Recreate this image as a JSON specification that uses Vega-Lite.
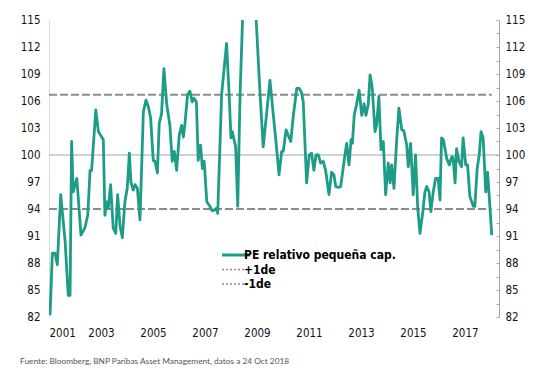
{
  "$schema": "https://vega.github.io/schema/vega-lite/v6.json",
  "width": 450,
  "height": 297,
  "autosize": {"type": "none"},
  "padding": {"left": 49, "top": 20, "right": 59, "bottom": 65},
  "background": "white",
  "config": {"view": {"stroke": null}, "font": "DejaVu Sans Condensed, Roboto, sans-serif"},
  "title": {
    "text": "Fuente: Bloomberg, BNP Paribas Asset Management, datos a 24 Oct 2018",
    "orient": "bottom",
    "anchor": "start",
    "frame": "group",
    "dx": -29,
    "offset": 18,
    "font": "Lato",
    "fontSize": 8.3,
    "fontWeight": "normal",
    "color": "#555555"
  },
  "datasets": {
    "pe": [
      {"t": 2001.04, "v": 82.2}, {"t": 2001.13, "v": 89.1}, {"t": 2001.23, "v": 89.1}, {"t": 2001.32, "v": 87.8},
      {"t": 2001.45, "v": 95.6}, {"t": 2001.62, "v": 90.4}, {"t": 2001.74, "v": 84.4}, {"t": 2001.81, "v": 84.4},
      {"t": 2001.87, "v": 101.5}, {"t": 2001.93, "v": 95.9}, {"t": 2002.07, "v": 97.4}, {"t": 2002.23, "v": 91.1},
      {"t": 2002.38, "v": 91.9}, {"t": 2002.49, "v": 93.3}, {"t": 2002.58, "v": 98.3}, {"t": 2002.64, "v": 98.3},
      {"t": 2002.8, "v": 105.0}, {"t": 2002.9, "v": 102.6}, {"t": 2003.09, "v": 101.7}, {"t": 2003.15, "v": 93.3},
      {"t": 2003.22, "v": 94.8}, {"t": 2003.28, "v": 94.1}, {"t": 2003.37, "v": 96.7}, {"t": 2003.47, "v": 91.9},
      {"t": 2003.57, "v": 91.3}, {"t": 2003.64, "v": 95.6}, {"t": 2003.73, "v": 92.2}, {"t": 2003.82, "v": 90.8},
      {"t": 2003.92, "v": 94.8}, {"t": 2004.01, "v": 96.3}, {"t": 2004.09, "v": 100.2}, {"t": 2004.15, "v": 97.0},
      {"t": 2004.24, "v": 96.1}, {"t": 2004.31, "v": 96.7}, {"t": 2004.4, "v": 96.3}, {"t": 2004.5, "v": 92.8},
      {"t": 2004.63, "v": 104.8}, {"t": 2004.73, "v": 106.1}, {"t": 2004.82, "v": 105.4}, {"t": 2004.91, "v": 104.1},
      {"t": 2005.01, "v": 99.4}, {"t": 2005.08, "v": 99.3}, {"t": 2005.17, "v": 98.0}, {"t": 2005.24, "v": 103.5},
      {"t": 2005.33, "v": 104.6}, {"t": 2005.42, "v": 109.6}, {"t": 2005.53, "v": 105.6}, {"t": 2005.65, "v": 103.3},
      {"t": 2005.74, "v": 99.3}, {"t": 2005.82, "v": 100.4}, {"t": 2005.91, "v": 98.3}, {"t": 2006.01, "v": 102.2},
      {"t": 2006.1, "v": 103.3}, {"t": 2006.17, "v": 102.0}, {"t": 2006.23, "v": 103.5}, {"t": 2006.33, "v": 106.7},
      {"t": 2006.42, "v": 107.1}, {"t": 2006.51, "v": 105.9}, {"t": 2006.58, "v": 106.3}, {"t": 2006.67, "v": 105.9},
      {"t": 2006.74, "v": 99.4}, {"t": 2006.83, "v": 101.1}, {"t": 2006.9, "v": 98.5}, {"t": 2006.97, "v": 99.3},
      {"t": 2007.07, "v": 94.8}, {"t": 2007.19, "v": 94.3}, {"t": 2007.28, "v": 93.8}, {"t": 2007.38, "v": 93.9},
      {"t": 2007.45, "v": 94.1}, {"t": 2007.49, "v": 93.5}, {"t": 2007.64, "v": 106.7}, {"t": 2007.83, "v": 112.4},
      {"t": 2007.93, "v": 106.7}, {"t": 2008.0, "v": 101.9}, {"t": 2008.05, "v": 102.6}, {"t": 2008.18, "v": 100.9},
      {"t": 2008.26, "v": 94.3}, {"t": 2008.35, "v": 106.7}, {"t": 2008.45, "v": 115.5}, {"t": 2008.69, "v": 121.0},
      {"t": 2008.96, "v": 115.5}, {"t": 2009.12, "v": 106.7}, {"t": 2009.24, "v": 100.9}, {"t": 2009.5, "v": 108.3},
      {"t": 2009.63, "v": 104.4}, {"t": 2009.73, "v": 101.5}, {"t": 2009.85, "v": 97.8}, {"t": 2009.95, "v": 100.4},
      {"t": 2010.01, "v": 100.4}, {"t": 2010.12, "v": 102.8}, {"t": 2010.2, "v": 102.2}, {"t": 2010.3, "v": 101.5},
      {"t": 2010.4, "v": 104.4}, {"t": 2010.53, "v": 107.4}, {"t": 2010.63, "v": 107.4}, {"t": 2010.72, "v": 106.9},
      {"t": 2010.78, "v": 105.9}, {"t": 2010.91, "v": 96.9}, {"t": 2011.01, "v": 100.0}, {"t": 2011.1, "v": 100.2},
      {"t": 2011.19, "v": 98.3}, {"t": 2011.27, "v": 100.0}, {"t": 2011.36, "v": 100.0}, {"t": 2011.45, "v": 99.1},
      {"t": 2011.55, "v": 99.3}, {"t": 2011.64, "v": 98.3}, {"t": 2011.77, "v": 95.6}, {"t": 2011.87, "v": 98.1},
      {"t": 2011.96, "v": 97.8}, {"t": 2012.03, "v": 96.5}, {"t": 2012.13, "v": 96.4}, {"t": 2012.22, "v": 96.5},
      {"t": 2012.35, "v": 99.3}, {"t": 2012.45, "v": 101.3}, {"t": 2012.54, "v": 98.9}, {"t": 2012.62, "v": 101.7},
      {"t": 2012.67, "v": 101.3}, {"t": 2012.74, "v": 104.4}, {"t": 2012.83, "v": 105.6}, {"t": 2012.93, "v": 107.2},
      {"t": 2013.03, "v": 104.4}, {"t": 2013.12, "v": 105.7}, {"t": 2013.19, "v": 104.4}, {"t": 2013.28, "v": 105.6},
      {"t": 2013.35, "v": 108.9}, {"t": 2013.43, "v": 107.6}, {"t": 2013.54, "v": 102.6}, {"t": 2013.6, "v": 103.3},
      {"t": 2013.69, "v": 106.5}, {"t": 2013.77, "v": 100.6}, {"t": 2013.86, "v": 101.5}, {"t": 2013.95, "v": 95.6},
      {"t": 2014.05, "v": 99.1}, {"t": 2014.12, "v": 96.9}, {"t": 2014.18, "v": 98.9}, {"t": 2014.27, "v": 96.3},
      {"t": 2014.37, "v": 101.5}, {"t": 2014.46, "v": 105.2}, {"t": 2014.57, "v": 102.8}, {"t": 2014.65, "v": 102.7},
      {"t": 2014.76, "v": 101.1}, {"t": 2014.82, "v": 98.7}, {"t": 2014.91, "v": 101.3}, {"t": 2015.01, "v": 95.6},
      {"t": 2015.1, "v": 100.0}, {"t": 2015.18, "v": 94.3}, {"t": 2015.27, "v": 91.3}, {"t": 2015.38, "v": 93.7},
      {"t": 2015.46, "v": 95.9}, {"t": 2015.53, "v": 96.5}, {"t": 2015.62, "v": 95.9}, {"t": 2015.69, "v": 93.7},
      {"t": 2015.78, "v": 95.9}, {"t": 2015.87, "v": 97.4}, {"t": 2015.97, "v": 97.4}, {"t": 2016.04, "v": 95.0},
      {"t": 2016.1, "v": 101.9}, {"t": 2016.17, "v": 101.7}, {"t": 2016.3, "v": 99.6}, {"t": 2016.4, "v": 98.9},
      {"t": 2016.49, "v": 99.8}, {"t": 2016.54, "v": 99.8}, {"t": 2016.62, "v": 96.9}, {"t": 2016.68, "v": 100.7},
      {"t": 2016.77, "v": 99.3}, {"t": 2016.87, "v": 98.7}, {"t": 2016.93, "v": 101.9}, {"t": 2017.03, "v": 98.9},
      {"t": 2017.1, "v": 98.9}, {"t": 2017.19, "v": 95.4}, {"t": 2017.32, "v": 94.3}, {"t": 2017.38, "v": 94.3},
      {"t": 2017.47, "v": 98.5}, {"t": 2017.55, "v": 100.0}, {"t": 2017.62, "v": 102.6}, {"t": 2017.7, "v": 101.9},
      {"t": 2017.8, "v": 95.9}, {"t": 2017.87, "v": 98.1}, {"t": 2017.93, "v": 95.6}, {"t": 2018.03, "v": 91.1}
    ],
    "bands": [
      {"serie": "+1de", "t": 2001.0, "v": 106.7},
      {"serie": "+1de", "t": 2018.03, "v": 106.7},
      {"serie": "-1de", "t": 2001.0, "v": 94.0},
      {"serie": "-1de", "t": 2018.03, "v": 94.0}
    ],
    "ref": [{"v": 100}]
  },
  "layer": [
    {
      "data": {"name": "ref"},
      "mark": {"type": "rule", "color": "#a6a6a6", "strokeWidth": 1.2},
      "encoding": {
        "y": {
          "field": "v", "type": "quantitative",
          "scale": {"domain": [82, 115], "nice": false, "zero": false},
          "axis": {
            "orient": "left",
            "values": [82, 85, 88, 91, 94, 97, 100, 103, 106, 109, 112, 115],
            "title": null, "grid": false, "ticks": false,
            "domain": true, "domainColor": "#d9d9d9", "domainWidth": 1,
            "labelFontSize": 11.5, "labelColor": "#111111",
            "labelPadding": 9
          }
        }
      }
    },
    {
      "data": {"name": "bands"},
      "mark": {"type": "line", "strokeWidth": 2, "strokeDash": [8, 3]},
      "encoding": {
        "x": {"field": "t", "type": "quantitative"},
        "y": {
          "field": "v", "type": "quantitative",
          "axis": {
            "orient": "right",
            "values": [82, 83.5, 85, 86.5, 88, 89.5, 91, 92.5, 94, 95.5, 97, 98.5, 100, 101.5, 103, 104.5, 106, 107.5, 109, 110.5, 112, 113.5, 115],
            "labelExpr": "datum.value % 3 === 1 ? datum.label : ''",
            "title": null, "grid": false,
            "ticks": true, "tickSize": -3, "tickColor": "#a6a6a6", "tickWidth": 1,
            "domain": true, "domainColor": "#a6a6a6", "domainWidth": 1,
            "labelFontSize": 11.5, "labelColor": "#111111",
            "labelPadding": 9
          }
        },
        "color": {"field": "serie", "type": "nominal", "title": null},
        "detail": {"field": "serie"}
      }
    },
    {
      "data": {"name": "pe"},
      "mark": {"type": "line", "strokeWidth": 2.8, "clip": true, "strokeJoin": "round"},
      "encoding": {
        "x": {
          "field": "t", "type": "quantitative",
          "scale": {"domain": [2001, 2018.31], "nice": false, "zero": false},
          "axis": {
            "values": [2001, 2003, 2005, 2007, 2009, 2011, 2013, 2015, 2017],
            "format": "d", "title": null, "grid": false, "ticks": false, "domain": false,
            "labelFontSize": 11.5, "labelColor": "#111111",
            "labelPadding": 10
          }
        },
        "y": {"field": "v", "type": "quantitative", "axis": null},
        "color": {
          "datum": "PE relativo pequeña cap.",
          "type": "nominal",
          "title": null,
          "scale": {
            "domain": ["PE relativo pequeña cap.", "+1de", "-1de"],
            "range": ["#1d9c88", "#8c8c8c", "#8c8c8c"]
          },
          "legend": {
            "orient": "none",
            "legendX": 181,
            "legendY": 229,
            "title": null,
            "padding": 0,
            "symbolType": "stroke",
            "symbolSize": 784,
            "symbolStrokeWidth": 3,
            "rowPadding": 2.5,
            "labelOffset": 2,
            "labelFontSize": 12,
            "labelFontWeight": "bold",
            "labelColor": "#000000",
            "encode": {
              "symbols": {
                "update": {
                  "strokeDash": {"signal": "datum.value === 'PE relativo pequeña cap.' ? [1, 0] : [2, 2]"},
                  "strokeWidth": {"signal": "datum.value === 'PE relativo pequeña cap.' ? 3 : 1.5"},
                  "stroke": {"signal": "datum.value === 'PE relativo pequeña cap.' ? '#1d9c88' : '#b0b0b0'"}
                }
              }
            }
          }
        }
      }
    }
  ],
  "resolve": {"scale": {"y": "shared"}, "axis": {"y": "independent"}}
}
